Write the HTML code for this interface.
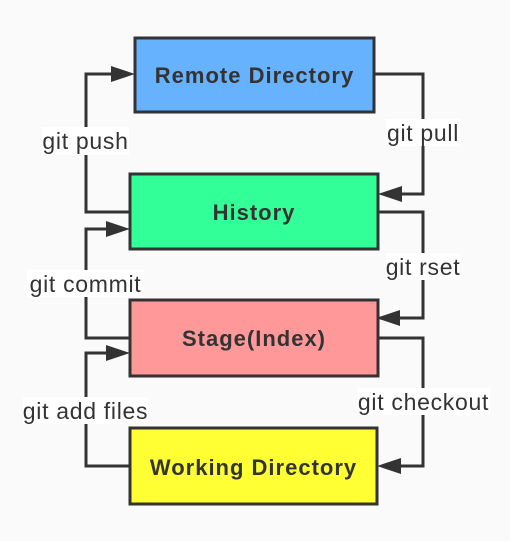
<!DOCTYPE html>
<html><head><meta charset="utf-8"><style>
html,body{margin:0;padding:0;background:#fafafa;}
svg{display:block;}
.t{font-family:"Liberation Sans","DejaVu Sans",sans-serif;font-size:23px;letter-spacing:0.7px;fill:#333;}
.b{font-family:"Liberation Sans","DejaVu Sans",sans-serif;font-size:22px;letter-spacing:1px;font-weight:bold;fill:#333;}
</style></head><body>
<svg width="510" height="541" viewBox="0 0 510 541" xmlns="http://www.w3.org/2000/svg">
<rect width="510" height="541" fill="#fafafa"/>
<g fill="none" stroke="#333" stroke-width="3">
<polyline points="130,212 86,212 86,74 112,74"/>
<polyline points="374,74 423,74 423,194 400,194"/>
<polyline points="130,338 86,338 86,229 108,229"/>
<polyline points="378,212 423,212 423,318 398,318"/>
<polyline points="130,466 86,466 86,353 108,353"/>
<polyline points="378,338 423,338 423,466 400,466"/>
</g>
<g fill="#333">
<polygon points="135,74 111,66 111,82"/>
<polygon points="378,194 402,186 402,202"/>
<polygon points="130,229 106,221 106,237"/>
<polygon points="376,318 400,310 400,326"/>
<polygon points="130,353 106,345 106,361"/>
<polygon points="377,466 401,458 401,474"/>
</g>
<g stroke="#333" stroke-width="3">
<rect x="135" y="38" width="239" height="74" fill="#66b2ff"/>
<rect x="130" y="174" width="248" height="75" fill="#33ff99"/>
<rect x="130" y="300" width="248" height="76" fill="#ff9999"/>
<rect x="130" y="428" width="247" height="76" fill="#ffff33"/>
</g>
<text class="b" x="254.5" y="83" text-anchor="middle">Remote Directory</text>
<text class="b" x="254" y="220" text-anchor="middle">History</text>
<text class="b" x="254" y="346" text-anchor="middle">Stage(Index)</text>
<text class="b" x="253.5" y="475" text-anchor="middle">Working Directory</text>
<g fill="#fff">
<rect x="42" y="127" width="87" height="28"/>
<rect x="386" y="119" width="74" height="27"/>
<rect x="27" y="270" width="117" height="27"/>
<rect x="386" y="253" width="74" height="27"/>
<rect x="23" y="397" width="125" height="27"/>
<rect x="357" y="388" width="133" height="27"/>
</g>
<text class="t" x="85.5" y="149" text-anchor="middle">git push</text>
<text class="t" x="423" y="141" text-anchor="middle">git pull</text>
<text class="t" x="85.5" y="292" text-anchor="middle">git commit</text>
<text class="t" x="423" y="275" text-anchor="middle">git rset</text>
<text class="t" x="85.5" y="419" text-anchor="middle">git add files</text>
<text class="t" x="423.5" y="410" text-anchor="middle">git checkout</text>
</svg>
</body></html>
